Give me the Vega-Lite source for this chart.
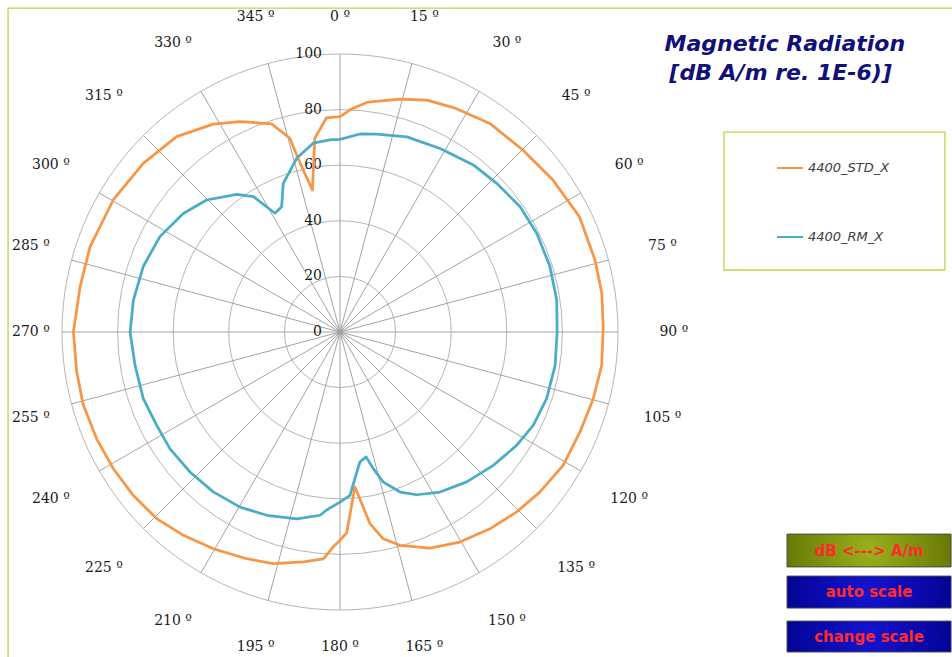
{
  "$schema": "https://vega.github.io/schema/vega-lite/v6.json",
  "width": 556,
  "height": 556,
  "autosize": {"type": "none"},
  "padding": {"left": 62, "top": 54, "right": 334, "bottom": 47},
  "background": "white",
  "config": {"view": {"stroke": null}},
  "datasets": {
    "titles": [
      {"t": "Magnetic Radiation", "x": 160, "y": 103.6},
      {"t": "[dB A/m re. 1E-6)]", "x": 158.5, "y": 93.3}
    ],
    "rings": [{"r": 0}, {"r": 20}, {"r": 40}, {"r": 60}, {"r": 80}, {"r": 100}],
    "spokes": [
      {"a": 0, "t": "0 º"}, {"a": 15, "t": "15 º"}, {"a": 30, "t": "30 º"}, {"a": 45, "t": "45 º"},
      {"a": 60, "t": "60 º"}, {"a": 75, "t": "75 º"}, {"a": 90, "t": "90 º"}, {"a": 105, "t": "105 º"},
      {"a": 120, "t": "120 º"}, {"a": 135, "t": "135 º"}, {"a": 150, "t": "150 º"}, {"a": 165, "t": "165 º"},
      {"a": 180, "t": "180 º"}, {"a": 195, "t": "195 º"}, {"a": 210, "t": "210 º"}, {"a": 225, "t": "225 º"},
      {"a": 240, "t": "240 º"}, {"a": 255, "t": "255 º"}, {"a": 270, "t": "270 º"}, {"a": 285, "t": "285 º"},
      {"a": 300, "t": "300 º"}, {"a": 315, "t": "315 º"}, {"a": 330, "t": "330 º"}, {"a": 345, "t": "345 º"}
    ],
    "boxes": [
      {"k": "frame", "x1": -119.4, "x2": 223, "y1": 116.5, "y2": -119.8},
      {"k": "legend", "x1": 138.1, "x2": 217.6, "y1": 71.9, "y2": 22.3}
    ],
    "buttons": [
      {"k": "dB <---> A/m", "kind": "olive", "x1": 160.8, "x2": 219.8, "y1": -72.7, "y2": -84.5},
      {"k": "auto scale", "kind": "blue", "x1": 160.8, "x2": 219.8, "y1": -87.8, "y2": -99.3},
      {"k": "change scale", "kind": "blue", "x1": 160.8, "x2": 219.8, "y1": -104, "y2": -115.1}
    ],
    "series": [
      {"s": "4400_STD_X", "a": 0, "v": 77.5}, {"s": "4400_STD_X", "a": 2.6, "v": 80},
      {"s": "4400_STD_X", "a": 6.9, "v": 83.3}, {"s": "4400_STD_X", "a": 14.4, "v": 86.5},
      {"s": "4400_STD_X", "a": 20.6, "v": 89.1}, {"s": "4400_STD_X", "a": 27, "v": 90.5},
      {"s": "4400_STD_X", "a": 35.7, "v": 92.4}, {"s": "4400_STD_X", "a": 45.2, "v": 92.8},
      {"s": "4400_STD_X", "a": 54.5, "v": 94.1}, {"s": "4400_STD_X", "a": 64.3, "v": 95.6},
      {"s": "4400_STD_X", "a": 74.2, "v": 95.3}, {"s": "4400_STD_X", "a": 81.6, "v": 95.2},
      {"s": "4400_STD_X", "a": 88.8, "v": 94.7}, {"s": "4400_STD_X", "a": 97.3, "v": 94.9},
      {"s": "4400_STD_X", "a": 104.8, "v": 94.2}, {"s": "4400_STD_X", "a": 112.6, "v": 93.5},
      {"s": "4400_STD_X", "a": 120.8, "v": 93.5}, {"s": "4400_STD_X", "a": 128.7, "v": 92.1},
      {"s": "4400_STD_X", "a": 135.5, "v": 90.7}, {"s": "4400_STD_X", "a": 142.7, "v": 89},
      {"s": "4400_STD_X", "a": 150.3, "v": 87}, {"s": "4400_STD_X", "a": 157.4, "v": 84.2},
      {"s": "4400_STD_X", "a": 164.3, "v": 79.7}, {"s": "4400_STD_X", "a": 168.2, "v": 76},
      {"s": "4400_STD_X", "a": 171.1, "v": 69.8}, {"s": "4400_STD_X", "a": 174.5, "v": 56},
      {"s": "4400_STD_X", "a": 178.1, "v": 72.3}, {"s": "4400_STD_X", "a": 180, "v": 74.9},
      {"s": "4400_STD_X", "a": 181.8, "v": 77.3}, {"s": "4400_STD_X", "a": 184.2, "v": 81.8},
      {"s": "4400_STD_X", "a": 189, "v": 83.7}, {"s": "4400_STD_X", "a": 196.1, "v": 86.7},
      {"s": "4400_STD_X", "a": 202.4, "v": 88.2}, {"s": "4400_STD_X", "a": 210.3, "v": 90.3},
      {"s": "4400_STD_X", "a": 217.6, "v": 92.3}, {"s": "4400_STD_X", "a": 224.5, "v": 94.1},
      {"s": "4400_STD_X", "a": 231.7, "v": 94.8}, {"s": "4400_STD_X", "a": 238.9, "v": 95.2},
      {"s": "4400_STD_X", "a": 246.3, "v": 95.6}, {"s": "4400_STD_X", "a": 254.1, "v": 96},
      {"s": "4400_STD_X", "a": 261.4, "v": 95.8}, {"s": "4400_STD_X", "a": 270, "v": 95.9},
      {"s": "4400_STD_X", "a": 279.9, "v": 94.9}, {"s": "4400_STD_X", "a": 288.8, "v": 95},
      {"s": "4400_STD_X", "a": 300.2, "v": 94.4}, {"s": "4400_STD_X", "a": 310.6, "v": 93.2},
      {"s": "4400_STD_X", "a": 320.1, "v": 91.6}, {"s": "4400_STD_X", "a": 328.6, "v": 87.6},
      {"s": "4400_STD_X", "a": 334.6, "v": 83.8}, {"s": "4400_STD_X", "a": 341.8, "v": 78.8},
      {"s": "4400_STD_X", "a": 345.5, "v": 72}, {"s": "4400_STD_X", "a": 346.7, "v": 62.4},
      {"s": "4400_STD_X", "a": 349, "v": 52}, {"s": "4400_STD_X", "a": 352.6, "v": 70.3},
      {"s": "4400_STD_X", "a": 356.4, "v": 77.2}, {"s": "4400_STD_X", "a": 360, "v": 77.5},
      {"s": "4400_RM_X", "a": 0, "v": 69.3}, {"s": "4400_RM_X", "a": 5.8, "v": 71.6},
      {"s": "4400_RM_X", "a": 10.5, "v": 72.4}, {"s": "4400_RM_X", "a": 18.9, "v": 74.2},
      {"s": "4400_RM_X", "a": 28.6, "v": 75.2}, {"s": "4400_RM_X", "a": 38.6, "v": 76.9},
      {"s": "4400_RM_X", "a": 46.5, "v": 77.7}, {"s": "4400_RM_X", "a": 55.2, "v": 78.9},
      {"s": "4400_RM_X", "a": 63.4, "v": 79.2}, {"s": "4400_RM_X", "a": 72.7, "v": 79.1},
      {"s": "4400_RM_X", "a": 81.6, "v": 78.8}, {"s": "4400_RM_X", "a": 90, "v": 78.1},
      {"s": "4400_RM_X", "a": 98.8, "v": 78.3}, {"s": "4400_RM_X", "a": 107.9, "v": 78.1},
      {"s": "4400_RM_X", "a": 115.8, "v": 77.2}, {"s": "4400_RM_X", "a": 122.7, "v": 75.5},
      {"s": "4400_RM_X", "a": 131, "v": 73.1}, {"s": "4400_RM_X", "a": 139.8, "v": 70.6},
      {"s": "4400_RM_X", "a": 148, "v": 67.9}, {"s": "4400_RM_X", "a": 154.8, "v": 64.7},
      {"s": "4400_RM_X", "a": 159.4, "v": 61.5}, {"s": "4400_RM_X", "a": 163.9, "v": 56.2},
      {"s": "4400_RM_X", "a": 166.3, "v": 50.6}, {"s": "4400_RM_X", "a": 168.2, "v": 45.9},
      {"s": "4400_RM_X", "a": 171.3, "v": 47.3}, {"s": "4400_RM_X", "a": 174.2, "v": 53},
      {"s": "4400_RM_X", "a": 176.5, "v": 58.9}, {"s": "4400_RM_X", "a": 180, "v": 61.2},
      {"s": "4400_RM_X", "a": 184.3, "v": 64.2}, {"s": "4400_RM_X", "a": 186.2, "v": 66.3},
      {"s": "4400_RM_X", "a": 193, "v": 69}, {"s": "4400_RM_X", "a": 201.8, "v": 71},
      {"s": "4400_RM_X", "a": 209.7, "v": 72.5}, {"s": "4400_RM_X", "a": 218.4, "v": 73.4},
      {"s": "4400_RM_X", "a": 227, "v": 73.8}, {"s": "4400_RM_X", "a": 235.5, "v": 74.2},
      {"s": "4400_RM_X", "a": 243, "v": 74}, {"s": "4400_RM_X", "a": 251.3, "v": 74.7},
      {"s": "4400_RM_X", "a": 260.8, "v": 74.7}, {"s": "4400_RM_X", "a": 270, "v": 75.5},
      {"s": "4400_RM_X", "a": 278.8, "v": 75.2}, {"s": "4400_RM_X", "a": 288.4, "v": 74.6},
      {"s": "4400_RM_X", "a": 297.9, "v": 73.3}, {"s": "4400_RM_X", "a": 307.1, "v": 70.7},
      {"s": "4400_RM_X", "a": 314.7, "v": 67.5}, {"s": "4400_RM_X", "a": 323.1, "v": 61.9},
      {"s": "4400_RM_X", "a": 327.4, "v": 57.8}, {"s": "4400_RM_X", "a": 331.3, "v": 48.7},
      {"s": "4400_RM_X", "a": 335, "v": 49.7}, {"s": "4400_RM_X", "a": 339.1, "v": 57.2},
      {"s": "4400_RM_X", "a": 346, "v": 64.4}, {"s": "4400_RM_X", "a": 351.9, "v": 68.6},
      {"s": "4400_RM_X", "a": 357, "v": 69.2}, {"s": "4400_RM_X", "a": 360, "v": 69.3}
    ]
  },
  "layer": [
    {
      "data": {"name": "boxes"},
      "mark": {"type": "rect", "fill": null, "stroke": "#c2d14c", "strokeWidth": 1.3, "clip": false},
      "encoding": {
        "x": {"field": "x1", "type": "quantitative", "scale": {"domain": [-100, 100], "nice": false, "zero": false}, "axis": null},
        "x2": {"field": "x2"},
        "y": {"field": "y1", "type": "quantitative", "scale": {"domain": [-100, 100], "nice": false, "zero": false}, "axis": null},
        "y2": {"field": "y2"}
      }
    },
    {
      "data": {"name": "rings"},
      "transform": [{"filter": "datum.r > 0"}],
      "mark": {"type": "arc", "theta": 0, "theta2": 6.2832, "filled": false, "stroke": "#b5b5b5", "strokeWidth": 1},
      "encoding": {
        "radius": {"field": "r", "type": "quantitative", "stack": null, "scale": {"type": "linear", "domain": [0, 100], "range": [0, 278], "zero": true, "nice": false}}
      }
    },
    {
      "data": {"name": "spokes"},
      "transform": [
        {"calculate": "100 * sin(datum.a * PI / 180)", "as": "sx"},
        {"calculate": "100 * cos(datum.a * PI / 180)", "as": "sy"}
      ],
      "mark": {"type": "rule", "stroke": "#a3a3a3", "strokeWidth": 1},
      "encoding": {
        "x": {"field": "sx", "type": "quantitative", "scale": {"domain": [-100, 100], "nice": false, "zero": false}, "axis": null},
        "y": {"field": "sy", "type": "quantitative", "scale": {"domain": [-100, 100], "nice": false, "zero": false}, "axis": null},
        "x2": {"datum": 0},
        "y2": {"datum": 0}
      }
    },
    {
      "data": {"name": "rings"},
      "mark": {"type": "text", "align": "right", "baseline": "middle", "dx": -18, "font": "DejaVu Serif", "fontSize": 14, "color": "#1a1a1a"},
      "encoding": {
        "x": {"datum": 0, "type": "quantitative", "scale": {"domain": [-100, 100], "nice": false, "zero": false}, "axis": null},
        "y": {"field": "r", "type": "quantitative", "scale": {"domain": [-100, 100], "nice": false, "zero": false}, "axis": null},
        "text": {"field": "r", "type": "quantitative"}
      }
    },
    {
      "data": {"name": "spokes"},
      "transform": [
        {"calculate": "113.4 + 6.7 * min(1, 2.2 * abs(sin(datum.a * PI / 180)))", "as": "lr"},
        {"calculate": "max(-111.2, datum.lr * sin(datum.a * PI / 180))", "as": "lx"},
        {"calculate": "max(-113.6, datum.lr * cos(datum.a * PI / 180))", "as": "ly"}
      ],
      "mark": {"type": "text", "align": "center", "baseline": "middle", "font": "DejaVu Serif", "fontSize": 14, "color": "#1a1a1a"},
      "encoding": {
        "x": {"field": "lx", "type": "quantitative", "scale": {"domain": [-100, 100], "nice": false, "zero": false}, "axis": null},
        "y": {"field": "ly", "type": "quantitative", "scale": {"domain": [-100, 100], "nice": false, "zero": false}, "axis": null},
        "text": {"field": "t", "type": "nominal"}
      }
    },
    {
      "data": {"name": "series"},
      "transform": [
        {"calculate": "datum.v * sin(datum.a * PI / 180)", "as": "px"},
        {"calculate": "datum.v * cos(datum.a * PI / 180)", "as": "py"}
      ],
      "mark": {"type": "line", "strokeWidth": 2.75, "strokeJoin": "round", "strokeCap": "round"},
      "encoding": {
        "x": {"field": "px", "type": "quantitative", "scale": {"domain": [-100, 100], "nice": false, "zero": false}, "axis": null},
        "y": {"field": "py", "type": "quantitative", "scale": {"domain": [-100, 100], "nice": false, "zero": false}, "axis": null},
        "order": {"field": "a", "type": "quantitative"},
        "color": {
          "field": "s", "type": "nominal",
          "scale": {"domain": ["4400_STD_X", "4400_RM_X"], "range": ["#f79646", "#4bacc6"]},
          "legend": {
            "orient": "none", "legendX": 714, "legendY": 100, "title": null, "padding": 0,
            "symbolType": "stroke", "symbolSize": 676, "symbolStrokeWidth": 2,
            "labelFont": "DejaVu Sans", "labelFontStyle": "italic", "labelFontSize": 13,
            "labelColor": "#404040", "labelOffset": 4, "rowPadding": 48
          }
        }
      }
    },
    {
      "data": {"name": "titles"},
      "mark": {"type": "text", "align": "center", "baseline": "middle", "font": "DejaVu Sans", "fontSize": 22, "fontWeight": "bold", "fontStyle": "italic", "color": "#10107a"},
      "encoding": {
        "x": {"field": "x", "type": "quantitative", "scale": {"domain": [-100, 100], "nice": false, "zero": false}, "axis": null},
        "y": {"field": "y", "type": "quantitative", "scale": {"domain": [-100, 100], "nice": false, "zero": false}, "axis": null},
        "text": {"field": "t", "type": "nominal"}
      }
    },
    {
      "data": {"name": "buttons"},
      "transform": [{"filter": "datum.kind == 'olive'"}],
      "mark": {
        "type": "rect", "clip": false, "stroke": "#4a4a4a", "strokeWidth": 1,
        "fill": {"gradient": "radial", "x1": 0.5, "y1": 0.5, "x2": 0.5, "y2": 0.5, "r1": 0, "r2": 0.6,
                 "stops": [{"offset": 0, "color": "#9bb01c"}, {"offset": 1, "color": "#5f7000"}]}
      },
      "encoding": {
        "x": {"field": "x1", "type": "quantitative", "scale": {"domain": [-100, 100], "nice": false, "zero": false}, "axis": null},
        "x2": {"field": "x2"},
        "y": {"field": "y1", "type": "quantitative", "scale": {"domain": [-100, 100], "nice": false, "zero": false}, "axis": null},
        "y2": {"field": "y2"}
      }
    },
    {
      "data": {"name": "buttons"},
      "transform": [{"filter": "datum.kind == 'blue'"}],
      "mark": {
        "type": "rect", "clip": false, "stroke": "#4a4a4a", "strokeWidth": 1,
        "fill": {"gradient": "radial", "x1": 0.5, "y1": 0.5, "x2": 0.5, "y2": 0.5, "r1": 0, "r2": 0.6,
                 "stops": [{"offset": 0, "color": "#1414d2"}, {"offset": 1, "color": "#00008a"}]}
      },
      "encoding": {
        "x": {"field": "x1", "type": "quantitative", "scale": {"domain": [-100, 100], "nice": false, "zero": false}, "axis": null},
        "x2": {"field": "x2"},
        "y": {"field": "y1", "type": "quantitative", "scale": {"domain": [-100, 100], "nice": false, "zero": false}, "axis": null},
        "y2": {"field": "y2"}
      }
    },
    {
      "data": {"name": "buttons"},
      "transform": [
        {"calculate": "(datum.x1 + datum.x2) / 2", "as": "xm"},
        {"calculate": "(datum.y1 + datum.y2) / 2", "as": "ym"}
      ],
      "mark": {"type": "text", "align": "center", "baseline": "middle", "font": "DejaVu Sans", "fontSize": 15, "fontWeight": "bold", "color": "#ff2a2a"},
      "encoding": {
        "x": {"field": "xm", "type": "quantitative", "scale": {"domain": [-100, 100], "nice": false, "zero": false}, "axis": null},
        "y": {"field": "ym", "type": "quantitative", "scale": {"domain": [-100, 100], "nice": false, "zero": false}, "axis": null},
        "text": {"field": "k", "type": "nominal"}
      }
    }
  ]
}
